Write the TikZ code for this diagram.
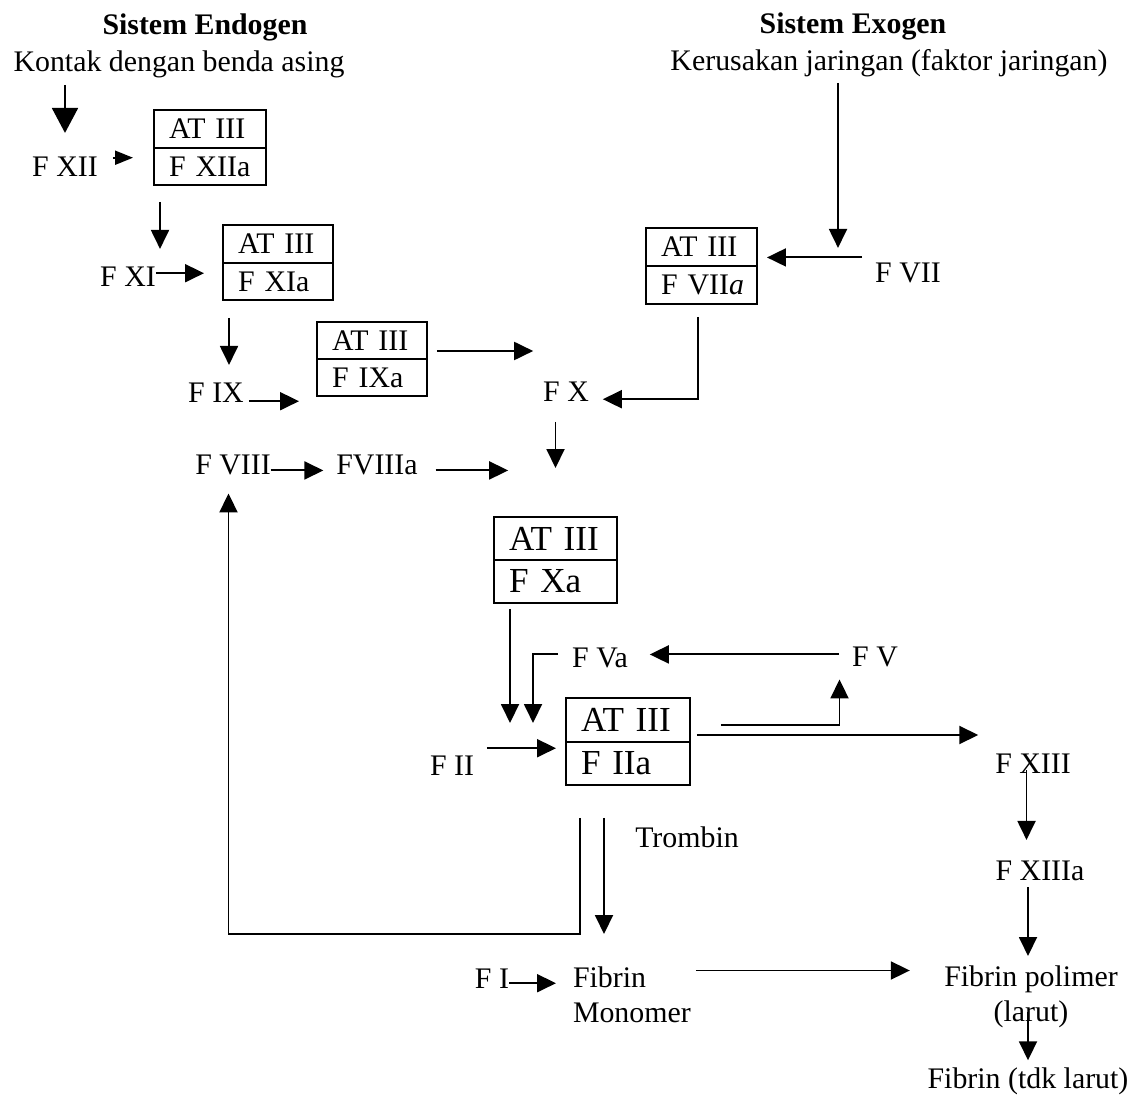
\documentclass[tikz,border=0pt]{standalone}
\usepackage{fontspec}
\setmainfont{Liberation Serif}
\usetikzlibrary{arrows.meta, positioning, calc}
\newcommand{\normsz}{\fontsize{17}{20}\selectfont}
\newcommand{\bigsz}{\fontsize{20}{24}\selectfont}
\tikzset{
	lbl/.style     ={inner sep=0pt, outer sep=0pt, anchor=base},
	atpart/.style  ={draw, line width=0.9pt, inner xsep=0.3cm, inner ysep=0pt, outer sep=0pt, align=left},
	attop/.style   ={atpart, anchor=south},
	atbot/.style   ={atpart, anchor=north},
	arr/.style     ={-{Triangle[length=0.38cm, width=0.36cm]}, line width=1.1pt},
	smallarr/.style={-{Triangle[length=0.36cm, width=0.28cm]}, line width=1.1pt},
	bigarr/.style  ={-{Triangle[length=0.5cm, width=0.52cm]}, line width=1.1pt},
}

\begin{document}
\begin{tikzpicture}[x=0.02cm, y=-0.02cm, font=\normsz]
	\useasboundingbox (0,0) rectangle (1142,1097);
	% headings
	\node[lbl, font=\normsz\bfseries] (endo) at (205,35) {Sistem Endogen};
	\node[lbl] (kontak) at (179,72) {Kontak dengan benda asing};
	\node[lbl, font=\normsz\bfseries] (exo) at (853,34) {Sistem Exogen};
	\node[lbl] (kerusakan) at (889,71) {Kerusakan jaringan (faktor jaringan)};
	% factors
	\node[lbl] (fxii) at (65,177) {F XII};
	\node[lbl] (fxi) at (128,287) {F XI};
	\node[lbl] (fix) at (216,403) {F IX};
	\node[lbl] (fviii) at (233,475) {F VIII};
	\node[lbl] (fviiia) at (377,475) {FVIIIa};
	\node[lbl] (fx) at (566,402) {F X};
	\node[lbl] (fvii) at (908,283) {F VII};
	\node[lbl] (fva) at (600,667) {F Va};
	\node[lbl] (fv) at (875,666) {F V};
	\node[lbl] (fii) at (452,775) {F II};
	\node[lbl] (fxiii) at (1033,773) {F XIII};
	\node[lbl] (trombin) at (687,847) {Trombin};
	\node[lbl] (fxiiia) at (1040,880) {F XIIIa};
	\node[lbl] (fi) at (492,988) {F I};
	\node[inner sep=0pt, outer sep=0pt, anchor=north west, align=left] (fmono) at (573,967) {Fibrin\\Monomer};
	\node[inner sep=0pt, outer sep=0pt, anchor=north, align=center] (fpolimer) at (1031,966) {Fibrin polimer\\(larut)};
	\node[lbl] (ftdk) at (1028,1088) {Fibrin (tdk larut)};
	% AT III boxes
	\node[attop, text width=1.64cm, minimum height=0.76cm] (b1t) at (210,148) {AT~III};
	\node[atbot, text width=1.64cm, minimum height=0.74cm] (b1b) at (210,148) {F~XIIa};
	\node[attop, text width=1.6cm, minimum height=0.76cm] (b2t) at (278,263) {AT~III};
	\node[atbot, text width=1.6cm, minimum height=0.74cm] (b2b) at (278,263) {F~XIa};
	\node[attop, text width=1.6cm, minimum height=0.74cm] (b3t) at (372,359) {AT~III};
	\node[atbot, text width=1.6cm, minimum height=0.74cm] (b3b) at (372,359) {F~IXa};
	\node[attop, text width=1.62cm, minimum height=0.76cm] (b4t) at (701.5,266) {AT~III};
	\node[atbot, text width=1.62cm, minimum height=0.76cm] (b4b) at (701.5,266) {F~VII\textit{a}};
	\node[attop, font=\bigsz, text width=1.86cm, minimum height=0.86cm] (b5t) at (555.5,560) {AT~III};
	\node[atbot, font=\bigsz, text width=1.86cm, minimum height=0.86cm] (b5b) at (555.5,560) {F~Xa};
	\node[attop, font=\bigsz, text width=1.88cm, minimum height=0.88cm] (b6t) at (628,742) {AT~III};
	\node[atbot, font=\bigsz, text width=1.88cm, minimum height=0.86cm] (b6b) at (628,742) {F~IIa};
	% endogen chain
	\draw[bigarr, shorten <=0.13cm, shorten >=0.49cm] (kontak.south -| fxii.north) -- (fxii.north);
	\draw[smallarr, shorten <=0.3cm, shorten >=0.42cm] ([yshift=0.19cm]fxii.east) -- ([yshift=0.19cm]fxii.east -| b1b.west);
	\draw[arr, shorten <=0.34cm, shorten >=0.37cm] ([xshift=0.12cm]b1b.south west) -- ([xshift=0.12cm]b1b.south west |- fxi.north);
	\draw[arr, shorten >=0.38cm] ([yshift=0.08cm]fxi.east) -- ([yshift=0.08cm]fxi.east -| b2b.west);
	\draw[arr, shorten <=0.36cm, shorten >=0.37cm] ([xshift=0.12cm]b2b.south west) -- ([xshift=0.12cm]b2b.south west |- fix.north);
	\draw[arr, shorten <=0.1cm, shorten >=0.36cm] ([yshift=-0.16cm]fix.east) -- ([yshift=-0.16cm]fix.east -| b3b.west);
	\draw[arr, shorten <=0.2cm, shorten >=0.2cm] ([yshift=-0.21cm]b3t.east) -- ([yshift=-0.21cm]b3t.east -| fx.west);
	\draw[arr, shorten >=0.26cm] ([yshift=-0.1cm]fviii.east) -- ([yshift=-0.1cm]fviii.east -| fviiia.west);
	\draw[arr, shorten <=0.36cm, shorten >=0.7cm] ([yshift=-0.1cm]fviiia.east) -- ([yshift=-0.1cm]fviiia.east -| fx.west);
	% exogen chain
	\draw[arr, shorten <=0.11cm, shorten >=0.31cm] ([xshift=-1.02cm]kerusakan.south) -- ([xshift=-1.02cm]kerusakan.south |- fvii.north);
	\draw[arr, shorten <=0.26cm, shorten >=0.2cm] ([yshift=0.32cm]fvii.west) -- ([yshift=0.32cm]fvii.west -| b4t.east);
	\draw[arr, shorten >=0.28cm] ([xshift=-0.07cm,yshift=-0.26cm]b4b.south) |- ([yshift=-0.14cm]fx.east);
	% common path
	\draw[arr, shorten <=0.4cm, shorten >=0.98cm] ([xshift=-0.21cm]fx.south) -- ([xshift=-0.21cm]fx.south |- b5t.north);
	\draw[arr, shorten <=0.12cm, shorten >=-0.06cm] ([xshift=0.32cm]b5b.south west) -- ([xshift=0.32cm]b5b.south west |- b6t.west);
	\draw[arr] ([xshift=-0.28cm,yshift=0.06cm]fva.west) -| ([xshift=-0.66cm,yshift=-0.06cm]b6t.west);
	\draw[arr, shorten <=0.26cm, shorten >=0.44cm] ([yshift=0.04cm]fv.west) -- ([yshift=0.04cm]fv.west -| fva.east);
	\draw[arr] ([xshift=0.62cm,yshift=-0.1cm]b6t.east) -| ([xshift=-0.71cm,yshift=-0.26cm]fv.south);
	\draw[arr, shorten <=0.14cm, shorten >=0.34cm] ([yshift=0.14cm]b6t.south east) -- ([yshift=0.14cm]b6t.south east -| fxiii.west);
	\draw[arr, shorten <=0.26cm, shorten >=0.2cm] ([yshift=0.34cm]fii.east) -- ([yshift=0.34cm]fii.east -| b6b.west);
	% trombin
	\draw[arr, shorten <=0.66cm, shorten >=0.66cm] ([xshift=0.76cm]b6b.south west) -- ([xshift=0.76cm]b6b.south west |- fmono.north);
	\draw[arr] ([xshift=0.28cm,yshift=-0.66cm]b6b.south west) -- ++(0,-2.32cm) -| ([xshift=-0.09cm,yshift=-0.36cm]fviii.south);
	% fibrin
	\draw[arr, shorten <=-0.06cm, shorten >=0.41cm] ([xshift=-0.13cm]fxiii.south) -- ([xshift=-0.13cm]fxiii.south |- fxiiia.north);
	\draw[arr, shorten <=0.14cm, shorten >=0.2cm] ([xshift=-0.24cm]fxiiia.south) -- ([xshift=-0.24cm]fxiiia.south |- fpolimer.north);
	\draw[arr, shorten <=-0.33cm, shorten >=0.14cm] ([xshift=-0.06cm]fpolimer.south) -- ([xshift=-0.06cm]fpolimer.south |- ftdk.north);
	\draw[arr, shorten >=0.34cm] ([yshift=-0.1cm]fi.east) -- ([yshift=-0.1cm]fi.east -| fmono.west);
	\draw[arr, shorten <=0.1cm, shorten >=0.69cm] ([yshift=-0.07cm]fmono.north east) -- ([yshift=-0.07cm]fmono.north east -| fpolimer.west);
\end{tikzpicture}
\end{document}
